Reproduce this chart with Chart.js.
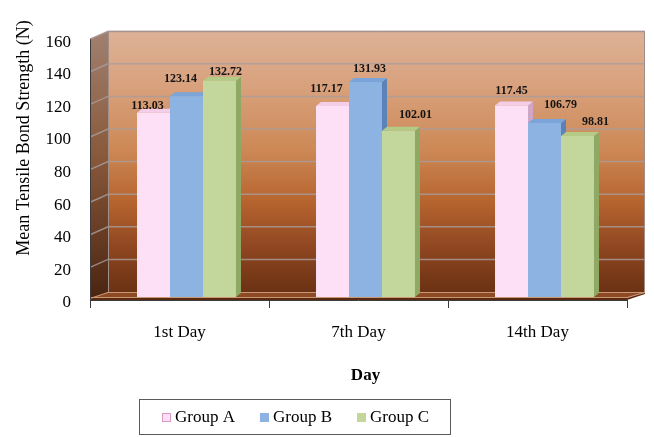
<!DOCTYPE html>
<html>
<head>
<meta charset="utf-8">
<script src="https://cdn.jsdelivr.net/npm/chart.js@4.4.1/dist/chart.umd.min.js"></script>
<style>
  html, body { margin: 0; padding: 0; background: #ffffff; }
  canvas { display: block; }
</style>
</head>
<body>
<canvas id="chart" width="654" height="437"></canvas>
<script>
// ---- data -------------------------------------------------------------
const days = ['1st Day', '7th Day', '14th Day'];
const seriesNames = ['Group A', 'Group B', 'Group C'];
const groupA = [113.03, 117.17, 117.45];
const groupB = [123.14, 131.93, 106.79];
const groupC = [132.72, 102.01, 98.81];
const yMin = 0, yMax = 160, yStep = 20;
const yTitle = 'Mean Tensile Bond Strength (N)';
const xTitle = 'Day';

// ---- look -------------------------------------------------------------
const SERIF = "'Liberation Serif', 'Times New Roman', serif";
const frontColors = ['#fde0f5', '#8db3e2', '#c3d69b'];
const sideColors  = ['#cfa6c6', '#5b83b9', '#8fa964'];
const topColors   = ['#f4cde8', '#7ba4d8', '#b3cb87'];
const legendEdge  = ['#d99ac0', '#8db3e2', '#c3d69b'];

// offsets of the 3-D planes relative to the plane the bars stand in
const BACK  = { dx: 11, dy: -5 };
const FRONT = { dx: -7, dy: 3 };
const BAR   = { dx: 5,  dy: -4 };

// value-label placement, relative to the top centre of each bar [series][day]
const labelNudge = [
  [[-6, -7],  [-6, -17], [0, -15]],
  [[-6, -17], [4, -13],  [16, -18]],
  [[6, -9],   [17, -16], [18, -14]]
];

const scene3d = {
  id: 'scene3d',
  beforeDatasetsDraw(chart) {
    const { ctx, chartArea: a, scales: { y } } = chart;
    const bx0 = a.left + BACK.dx, bx1 = a.right + BACK.dx;
    const by0 = a.top + BACK.dy,  by1 = a.bottom + BACK.dy;
    const fx0 = a.left + FRONT.dx, fx1 = a.right + FRONT.dx;
    const fy0 = a.top + FRONT.dy,  fy1 = a.bottom + FRONT.dy;
    ctx.save();

    // back wall
    const g = ctx.createLinearGradient(0, by0, 0, by1);
    g.addColorStop(0.00, '#ddb197');
    g.addColorStop(0.20, '#d9a27e');
    g.addColorStop(0.45, '#cd8957');
    g.addColorStop(0.65, '#b7652f');
    g.addColorStop(0.83, '#8f4621');
    g.addColorStop(1.00, '#6b3213');
    ctx.fillStyle = g;
    ctx.fillRect(bx0, by0, bx1 - bx0, by1 - by0);

    // left side wall
    const gl = ctx.createLinearGradient(0, by0, 0, fy1);
    gl.addColorStop(0.00, '#a08070');
    gl.addColorStop(0.45, '#8a5a3c');
    gl.addColorStop(1.00, '#4a2410');
    ctx.fillStyle = gl;
    ctx.beginPath();
    ctx.moveTo(fx0, fy0); ctx.lineTo(bx0, by0); ctx.lineTo(bx0, by1); ctx.lineTo(fx0, fy1);
    ctx.closePath(); ctx.fill();

    // gridlines on the side and back walls
    ctx.strokeStyle = 'rgba(168,158,158,0.8)';
    ctx.lineWidth = 1.5;
    y.ticks.forEach(t => {
      if (t.value === yMin) return;
      const p = y.getPixelForValue(t.value);
      ctx.beginPath();
      ctx.moveTo(fx0, p + FRONT.dy);
      ctx.lineTo(bx0, p + BACK.dy);
      ctx.lineTo(bx1, p + BACK.dy);
      ctx.stroke();
    });

    // floor slab
    ctx.fillStyle = '#8e4a25';
    ctx.beginPath();
    ctx.moveTo(bx0, by1); ctx.lineTo(bx1, by1); ctx.lineTo(fx1, fy1 - 2); ctx.lineTo(fx0, fy1 - 2);
    ctx.closePath(); ctx.fill();
    ctx.fillStyle = '#5a2a10';
    ctx.beginPath();
    ctx.moveTo(fx0, fy1 - 2); ctx.lineTo(fx1, fy1 - 2); ctx.lineTo(bx1, by1);
    ctx.lineTo(bx1, by1 + 2); ctx.lineTo(fx1, fy1); ctx.lineTo(fx0, fy1);
    ctx.closePath(); ctx.fill();
    ctx.strokeStyle = 'rgba(205,160,128,0.9)';
    ctx.lineWidth = 1;
    ctx.beginPath();
    ctx.moveTo(fx0, fy1 - 1.5); ctx.lineTo(bx0, by1 + 0.5); ctx.lineTo(bx1, by1 + 0.5);
    ctx.moveTo(fx0, fy1 - 2.5); ctx.lineTo(fx1, fy1 - 2.5); ctx.lineTo(bx1, by1 + 0.5);
    ctx.stroke();

    // wall outlines
    ctx.strokeStyle = '#a29088';
    ctx.lineWidth = 1;
    ctx.beginPath();
    ctx.moveTo(bx0 + 0.5, by1); ctx.lineTo(bx0 + 0.5, by0 + 0.5); ctx.lineTo(bx1 - 0.5, by0 + 0.5); ctx.lineTo(bx1 - 0.5, by1);
    ctx.moveTo(fx0, fy0); ctx.lineTo(bx0, by0 + 0.5);
    ctx.stroke();

    // side and top faces of the bars, left to right
    const n = chart.data.labels.length;
    for (let j = 0; j < n; j++) {
      chart.data.datasets.forEach((ds, i) => {
        const el = chart.getDatasetMeta(i).data[j];
        const l = el.x - el.width / 2, r = el.x + el.width / 2;
        ctx.fillStyle = sideColors[i];
        ctx.beginPath();
        ctx.moveTo(r, el.y); ctx.lineTo(r + BAR.dx, el.y + BAR.dy);
        ctx.lineTo(r + BAR.dx, el.base + BAR.dy); ctx.lineTo(r, el.base);
        ctx.closePath(); ctx.fill();
        ctx.fillStyle = topColors[i];
        ctx.beginPath();
        ctx.moveTo(l, el.y); ctx.lineTo(l + BAR.dx, el.y + BAR.dy);
        ctx.lineTo(r + BAR.dx, el.y + BAR.dy); ctx.lineTo(r, el.y);
        ctx.closePath(); ctx.fill();
      });
    }
    ctx.restore();
  },

  afterDatasetsDraw(chart) {
    const { ctx, chartArea: a, scales: { x } } = chart;
    const fx0 = a.left + FRONT.dx, fx1 = a.right + FRONT.dx;
    const fy0 = a.top + FRONT.dy,  fy1 = a.bottom + FRONT.dy;
    ctx.save();

    // axis lines and category tick marks on the front edge
    ctx.strokeStyle = '#3c3c3c';
    ctx.lineWidth = 1;
    ctx.beginPath();
    ctx.moveTo(fx0 + 0.5, fy0); ctx.lineTo(fx0 + 0.5, fy1);
    ctx.moveTo(fx0, fy1 + 0.5); ctx.lineTo(fx1, fy1 + 0.5);
    const n = chart.data.labels.length;
    const cw = (a.right - a.left) / n;
    for (let j = 0; j <= n; j++) {
      const px = Math.round(x.getPixelForValue(0) - cw / 2 + j * cw + FRONT.dx) + 0.5;
      ctx.moveTo(px, fy1); ctx.lineTo(px, fy1 + 8);
    }
    ctx.stroke();

    // value labels
    ctx.font = 'bold 12px ' + SERIF;
    ctx.fillStyle = '#141414';
    ctx.textAlign = 'center';
    ctx.textBaseline = 'middle';
    chart.data.datasets.forEach((ds, i) => {
      chart.getDatasetMeta(i).data.forEach((el, j) => {
        const [dx, dy] = labelNudge[i][j];
        ctx.fillText(ds.data[j].toFixed(2), el.x + dx, el.y + dy);
      });
    });

    // vertical axis title
    ctx.save();
    ctx.font = '18px ' + SERIF;
    ctx.fillStyle = '#000000';
    ctx.translate(24, 138);
    ctx.rotate(-Math.PI / 2);
    ctx.fillText(yTitle, 0, 0);
    ctx.restore();

    // legend box
    const lx = 139, ly = 399, lw = 312, lh = 36;
    ctx.fillStyle = '#ffffff';
    ctx.fillRect(lx, ly, lw, lh);
    ctx.strokeStyle = '#5a5a5a';
    ctx.lineWidth = 1;
    ctx.strokeRect(lx + 0.5, ly + 0.5, lw - 1, lh - 1);
    ctx.font = '17px ' + SERIF;
    ctx.textAlign = 'left';
    ctx.fillStyle = '#000000';
    let cx = 162;
    const cy = ly + lh / 2 + 1;
    chart.data.datasets.forEach((ds, i) => {
      ctx.fillStyle = frontColors[i];
      ctx.fillRect(cx, cy - 5, 9, 9);
      ctx.strokeStyle = legendEdge[i];
      ctx.strokeRect(cx + 0.5, cy - 4.5, 8, 8);
      ctx.fillStyle = '#000000';
      ctx.fillText(ds.label, cx + 13, cy);
      cx += 13 + ctx.measureText(ds.label).width + 25;
    });
    ctx.restore();
  }
};

const seriesValues = [groupA, groupB, groupC];

new Chart(document.getElementById('chart'), {
  type: 'bar',
  data: {
    labels: days,
    datasets: seriesValues.map((vals, i) => ({
      label: seriesNames[i],
      data: vals,
      backgroundColor: frontColors[i],
      borderWidth: 0,
      barPercentage: 1,
      categoryPercentage: 0.553
    }))
  },
  options: {
    responsive: false,
    devicePixelRatio: 1,
    animation: false,
    layout: { padding: { left: 0, top: 15, right: 20, bottom: 0 } },
    plugins: {
      legend: { display: false },
      tooltip: { enabled: false }
    },
    scales: {
      x: {
        grid: { display: false, drawTicks: false },
        border: { display: false },
        ticks: {
          color: '#000000',
          font: { family: SERIF, size: 17 },
          padding: 25,
          labelOffset: FRONT.dx,
          maxRotation: 0,
          autoSkip: false
        },
        title: {
          display: true,
          text: xTitle,
          color: '#000000',
          font: { family: SERIF, size: 17, weight: 'bold' },
          padding: { top: 0, bottom: 51 }
        },
        afterFit(scale) { scale.height = 140; }
      },
      y: {
        min: yMin,
        max: yMax,
        grid: { display: false, drawTicks: false },
        border: { display: false },
        ticks: {
          stepSize: yStep,
          color: '#000000',
          font: { family: SERIF, size: 17 },
          padding: 26,
          labelOffset: 6
        },
        afterFit(scale) { scale.width = 97; }
      }
    }
  },
  plugins: [scene3d]
});
</script>
</body>
</html>
